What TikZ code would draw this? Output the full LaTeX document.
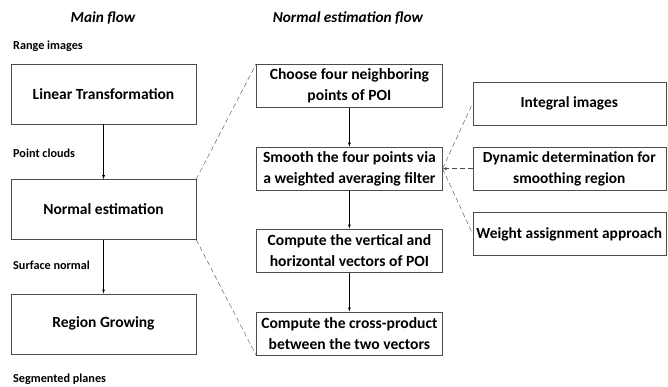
\documentclass[tikz,border=0pt]{standalone}
\usepackage{fontspec}
\setmainfont{Carlito}
\usetikzlibrary{positioning, arrows}
\tikzset{
    mainbox/.style={rectangle, draw=gray!60!black, thin, minimum width=185pt, minimum height=60pt, font=\bfseries\fontsize{15.5}{18}\selectfont},
    flowbox/.style={rectangle, draw=gray!60!black, thin, minimum width=186pt, minimum height=43.5pt, inner sep=1pt, align=center, font=\bfseries\fontsize{15.6}{21}\selectfont},
    sidebox/.style={rectangle, draw=gray!60!black, thin, minimum width=193pt, minimum height=43pt, inner sep=1pt, align=center, font=\bfseries\fontsize{15.4}{21}\selectfont},
    lbl/.style={anchor=west, inner sep=2pt, font=\bfseries\fontsize{12.2}{14}\selectfont},
    ttl/.style={font=\bfseries\itshape\fontsize{15.3}{18}\selectfont},
    link/.style={draw=gray!60!black, dash pattern=on 5pt off 3pt},
}
\begin{document}
\begin{tikzpicture}[x=1pt, y=-1pt, >=latex]
    \useasboundingbox (0,0) rectangle (668,387);
    % main flow
    \node [ttl] (mainttl) at (103,18) {Main flow};
    \node [mainbox] (lt) at (103.5,94) {Linear Transformation};
    \node [mainbox] (ne) [below=55pt of lt] {Normal estimation};
    \node [mainbox] (rg) [below=54pt of ne] {Region Growing};
    \node [lbl] (range) at (11,46) {Range images};
    \node [lbl] (cloud) at (11,153) {Point clouds};
    \node [lbl] (surf) at (11,265) {Surface normal};
    \node [lbl] (seg) at (11,379) {Segmented planes};
    % normal estimation flow
    \node [ttl] (flowttl) at (348,18) {Normal estimation flow};
    \node [flowbox, anchor=north west] (choose) at ([xshift=60pt]lt.north east) {Choose four neighboring\\points of POI};
    \node [flowbox] (smooth) [below=39pt of choose] {Smooth the four points via\\a weighted averaging filter};
    \node [flowbox] (vect) [below=38pt of smooth] {Compute the vertical and\\horizontal vectors of POI};
    \node [flowbox] (cross) [below=39pt of vect] {Compute the cross-product\\between the two vectors};
    % smoothing details
    \node [sidebox] (dyn) [right=30pt of smooth] {Dynamic determination for\\smoothing region};
    \node [sidebox] (integ) [above=22pt of dyn] {Integral images};
    \node [sidebox] (weight) [below=22pt of dyn] {Weight assignment approach};
    \draw[->] (lt) -- (ne);
    \draw[->] (ne) -- (rg);
    \draw[->] (choose) -- (smooth);
    \draw[->] (smooth) -- (vect);
    \draw[->] (vect) -- (cross);
    \draw[link] (ne.north east) -- (choose.north west);
    \draw[link] (ne.south east) -- (cross.south west);
    \draw[link] (smooth.east) -- (integ.west);
    \draw[link, ->] (dyn) -- (smooth);
    \draw[link] (smooth.east) -- (weight.west);
\end{tikzpicture}
\end{document}
